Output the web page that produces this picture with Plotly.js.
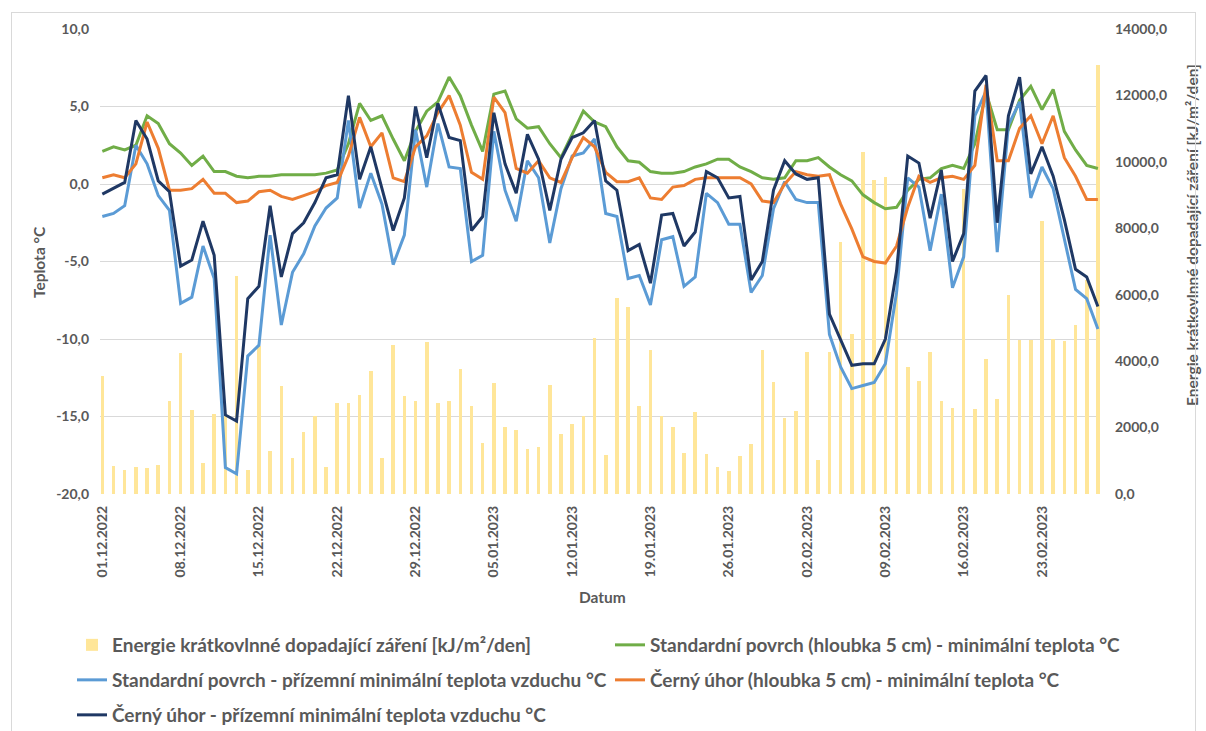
<!DOCTYPE html>
<html><head><meta charset="utf-8">
<script src="https://cdn.plot.ly/plotly-3.0.1.min.js"></script>
<style>
html,body{margin:0;padding:0;background:#fff;overflow:hidden;width:1206px;height:731px;}
#chart{position:absolute;left:0;top:0;width:1206px;height:731px;}
#frame{position:absolute;left:11px;top:12px;width:1185px;height:719px;box-sizing:border-box;border:1px solid #d9d9d9;border-bottom:none;pointer-events:none;}
</style></head><body>
<div id="chart"></div><div id="frame"></div>
<script>
// Data (01.12.2022 - 28.02.2023, daily)
const startDate = [2022, 11, 1]; // year, month index, day

const energy = [3550,830,730,800,770,880,2790,4250,2540,920,2410,2350,6560,730,4450,1280,3260,1070,1860,2360,
  800,2740,2730,2990,3690,1070,4490,2940,2790,4570,2740,2790,3770,2660,1530,3340,2010,1930,1360,1430,
  3290,1810,2110,2340,4690,1160,5890,5620,2640,4350,2340,2010,1240,2460,1210,820,680,1140,1510,4340,
  3380,2290,2490,4290,1030,4290,7600,4820,10290,9460,9540,6100,3820,3410,4290,2810,2590,9190,2560,4050,
  2860,5990,4640,4640,8230,4670,4620,5100,6430,12920];

const stdSoil5 = [2.1,2.4,2.2,2.5,4.4,3.9,2.6,2.0,1.2,1.8,0.8,0.8,0.5,0.4,0.5,0.5,0.6,0.6,0.6,0.6,
  0.7,0.9,2.6,5.2,4.1,4.4,2.9,1.5,3.4,4.7,5.3,6.9,5.7,3.8,2.1,5.8,6.0,4.2,3.6,3.7,
  2.6,1.7,3.2,4.7,4.0,3.7,2.4,1.5,1.4,0.8,0.7,0.7,0.8,1.1,1.3,1.6,1.6,1.1,0.8,0.4,
  0.3,0.4,1.5,1.5,1.7,1.1,0.6,0.2,-0.7,-1.2,-1.6,-1.5,-0.4,0.3,0.4,1.0,1.2,1.0,2.6,5.9,
  3.5,3.5,5.4,6.3,4.8,6.1,3.4,2.2,1.2,1.0];

const stdAir = [-2.1,-1.9,-1.4,2.5,1.3,-0.75,-1.7,-7.7,-7.3,-4.0,-6.1,-18.3,-18.7,-11.1,-10.4,-3.3,-9.1,-5.7,-4.5,-2.7,
  -1.55,-0.9,4.1,-1.55,0.7,-1.3,-5.2,-3.3,3.5,-0.2,3.9,1.1,1.0,-5.0,-4.6,3.4,-0.4,-2.4,1.5,0.4,
  -3.8,-0.3,1.8,2.0,2.9,-1.9,-2.1,-6.1,-5.9,-7.8,-3.6,-3.4,-6.6,-6.0,-0.6,-1.2,-2.6,-2.6,-7.0,-5.9,
  -1.6,0.15,-1.0,-1.2,-1.2,-9.7,-11.8,-13.2,-13.0,-12.8,-11.6,-7.0,0.4,-0.2,-4.3,-0.65,-6.7,-4.7,4.4,6.0,
  -4.4,3.8,5.3,-0.9,1.1,-0.3,-3.55,-6.8,-7.4,-9.35];

const blackSoil5 = [0.4,0.6,0.4,1.3,4.0,2.3,-0.4,-0.4,-0.3,0.3,-0.6,-0.6,-1.2,-1.1,-0.5,-0.4,-0.8,-1.0,-0.75,-0.5,
  -0.1,0.1,1.8,4.3,2.4,3.3,0.4,0.15,2.4,3.1,4.6,5.7,3.8,0.75,0.3,5.6,4.6,1.0,0.7,1.5,
  0.4,0.1,1.7,3.0,2.4,0.75,0.15,0.15,0.4,-0.9,-1.0,-0.2,-0.1,0.3,0.4,0.4,0.4,0.4,0.0,-1.1,
  -1.2,0.0,0.8,0.6,0.5,0.6,-1.3,-2.9,-4.7,-5.0,-5.1,-4.0,-1.5,0.5,0.1,0.4,0.5,0.3,1.2,6.4,
  1.5,1.5,3.6,4.4,2.6,4.4,1.7,0.5,-1.0,-1.0];

const blackAir = [-0.65,-0.25,0.1,4.1,2.9,0.2,-0.5,-5.3,-4.9,-2.4,-4.6,-14.9,-15.3,-7.4,-6.6,-1.4,-6.0,-3.2,-2.5,-1.2,
  0.4,0.6,5.7,0.3,2.4,-0.3,-3.0,-0.9,5.0,1.7,5.2,3.0,2.8,-3.0,-2.1,4.6,1.3,-0.6,3.2,1.6,
  -1.7,1.6,3.0,3.3,4.1,0.2,-0.4,-4.3,-3.9,-6.4,-2.0,-1.9,-4.0,-3.1,0.8,0.4,-0.9,-0.8,-6.2,-5.0,
  -0.4,1.5,0.65,0.3,0.4,-8.4,-10.1,-11.7,-11.6,-11.6,-10.0,-5.6,1.8,1.35,-2.2,0.9,-5.0,-3.2,6.0,7.0,
  -2.5,4.4,6.9,0.65,2.4,0.5,-2.3,-5.5,-6.0,-7.9];

const seriesNames = [
  'Energie krátkovlnné dopadající záření [kJ/m²/den]',
  'Standardní povrch (hloubka 5 cm) - minimální teplota °C',
  'Standardní povrch - přízemní minimální teplota vzduchu °C',
  'Černý úhor (hloubka 5 cm) - minimální teplota °C',
  'Černý úhor - přízemní minimální teplota vzduchu °C'
];

const xTitle = 'Datum';
const yTitle = 'Teplota °C';
const y2Title = 'Energie krátkovlnné dopadající záření [kJ/m²/den]';

const tempTicks = [-20,-15,-10,-5,0,5,10];
const tempTickText = ['-20,0','-15,0','-10,0','-5,0','0,0','5,0','10,0'];
const energyTicks = [0,2000,4000,6000,8000,10000,12000,14000];
const energyTickText = ['0,0','2000,0','4000,0','6000,0','8000,0','10000,0','12000,0','14000,0'];

const dates = energy.map((_, i) => {
  const d = new Date(Date.UTC(startDate[0], startDate[1], startDate[2] + i));
  return d.toISOString().slice(0, 10);
});

const FONT = 'Lato, "Open Sans", sans-serif';
const GRAY = '#595959';
const DAY = 86400000;
const W = 1206, H = 731;
const tickFont = {family:FONT, size:14, color:GRAY, weight:'bold'};
const titleFont = {family:FONT, size:15.5, color:GRAY, weight:'bold'};

const traces = [
  {type:'bar', x:dates, y:energy, name:seriesNames[0], yaxis:'y', marker:{color:'#FFE699'},
   width: DAY*0.32, legend:'legend'},
  {type:'scatter', mode:'lines', x:dates, y:stdSoil5, name:seriesNames[1], yaxis:'y2',
   line:{color:'#70AD47', width:3}, legend:'legend2'},
  {type:'scatter', mode:'lines', x:dates, y:stdAir, name:seriesNames[2], yaxis:'y2',
   line:{color:'#5B9BD5', width:3}, legend:'legend3'},
  {type:'scatter', mode:'lines', x:dates, y:blackSoil5, name:seriesNames[3], yaxis:'y2',
   line:{color:'#ED7D31', width:3}, legend:'legend4'},
  {type:'scatter', mode:'lines', x:dates, y:blackAir, name:seriesNames[4], yaxis:'y2',
   line:{color:'#1F3864', width:3}, legend:'legend5'}
];

const legendBase = {orientation:'h', xanchor:'left', yanchor:'middle', xref:'container', yref:'container',
  font:{family:FONT, size:19, color:GRAY, weight:'bold'}, bgcolor:'rgba(0,0,0,0)'};
const col1 = 72 / W, col2 = 610 / W;
const rowC = r => (H - r) / H;      // container y from pixel row
const rowY = r => (494 - r) / 465;  // paper y from pixel row

const layout = {
  width:W, height:H,
  margin:{l:100, r:106, t:29, b:237, autoexpand:false},
  paper_bgcolor:'#fff', plot_bgcolor:'#fff',
  showlegend:true,
  font:{family:FONT, color:GRAY, weight:'bold'},
  bargap:0,
  xaxis:{type:'date', range:['2022-11-30 19:00','2023-02-28 04:30'], tick0:'2022-12-01', dtick:7*DAY,
    tickformat:'%d.%m.%Y', tickangle:-90, showgrid:false, zeroline:false, showline:false,
    ticklabelstandoff:8, tickfont:tickFont, automargin:false},
  yaxis:{side:'right', range:[0,14000], tickvals:energyTicks, ticktext:energyTickText, showgrid:false, zeroline:false,
    ticklabelstandoff:14, tickfont:tickFont, automargin:false},
  yaxis2:{overlaying:'y', side:'left', range:[-20,10], tickvals:tempTicks, ticktext:tempTickText,
    showgrid:true, gridcolor:'#d9d9d9', gridwidth:1, zeroline:true, zerolinecolor:'#d9d9d9', zerolinewidth:1,
    ticklabelstandoff:10, tickfont:tickFont, automargin:false},
  annotations:[
    {text:xTitle, xref:'paper', yref:'paper', x:0.502, y:rowY(597), xanchor:'center', yanchor:'middle', showarrow:false, font:titleFont},
    {text:yTitle, xref:'paper', yref:'paper', x:-0.061, y:rowY(262), xanchor:'center', yanchor:'middle', textangle:-90, showarrow:false, font:titleFont},
    {text:y2Title, xref:'paper', yref:'paper', x:1.092, y:rowY(235), xanchor:'center', yanchor:'middle', textangle:-90, showarrow:false, font:titleFont}
  ],
  legend: Object.assign({}, legendBase, {x:col1, y:rowC(645)}),
  legend2: Object.assign({}, legendBase, {x:col2, y:rowC(645)}),
  legend3: Object.assign({}, legendBase, {x:col1, y:rowC(680)}),
  legend4: Object.assign({}, legendBase, {x:col2, y:rowC(680)}),
  legend5: Object.assign({}, legendBase, {x:col1, y:rowC(715)})
};

Plotly.newPlot('chart', traces, layout, {displayModeBar:false, staticPlot:true});
</script></body></html>
